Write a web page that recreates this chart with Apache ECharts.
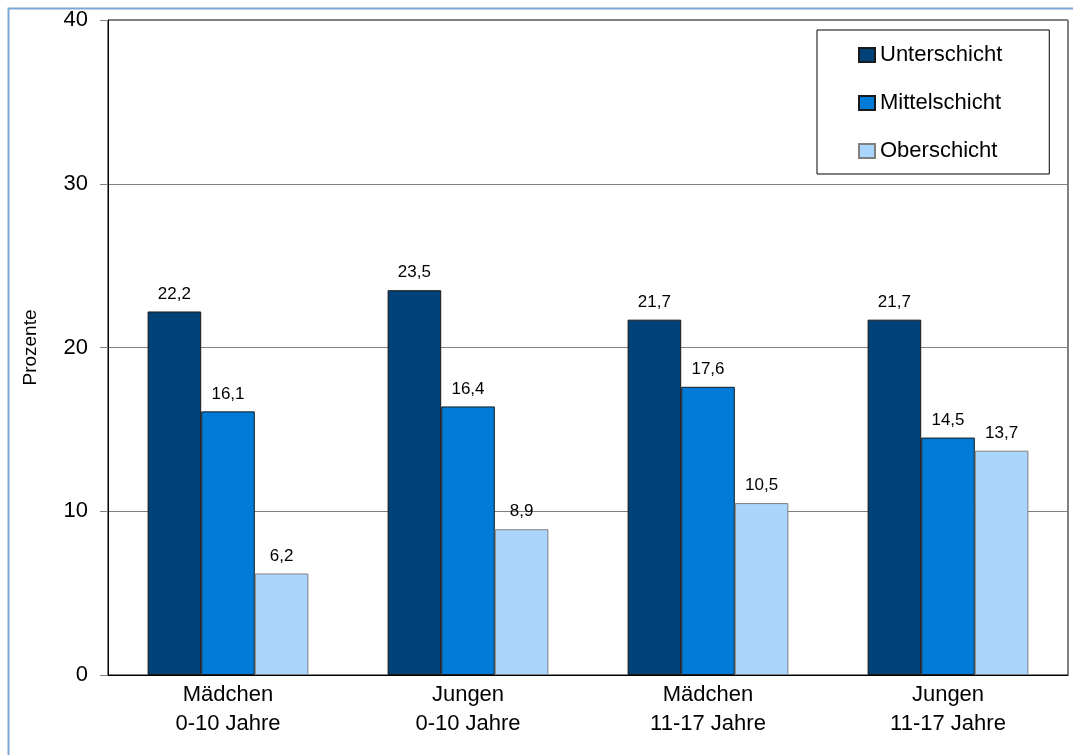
<!DOCTYPE html>
<html><head><meta charset="utf-8">
<script src="https://cdn.jsdelivr.net/npm/echarts@6/dist/echarts.min.js"></script>
<style>html,body{margin:0;padding:0;background:#fff;}#c{width:1073px;height:755px;}</style>
</head><body><div id="c"></div>
<script>
const categories = ['Mädchen\n0-10 Jahre', 'Jungen\n0-10 Jahre', 'Mädchen\n11-17 Jahre', 'Jungen\n11-17 Jahre'];
const unterschicht = [22.2, 23.5, 21.7, 21.7];
const mittelschicht = [16.1, 16.4, 17.6, 14.5];
const oberschicht = [6.2, 8.9, 10.5, 13.7];
const seriesNames = ['Unterschicht', 'Mittelschicht', 'Oberschicht'];
const yTicks = [0, 10, 20, 30, 40];

const colors = ['#004277', '#007BD7', '#AAD5FD'];
const borders = ['#1a1a1a', '#1a1a1a', '#808080'];
const font = 'Liberation Sans, Arial, sans-serif';

const chart = echarts.init(document.getElementById('c'), null, {renderer: 'canvas'});
const dataSets = [unterschicht, mittelschicht, oberschicht];
chart.setOption({
  animation: false,
  textStyle: {fontFamily: font},
  graphic: [{
    type: 'rect', shape: {x: 8.5, y: 8.5, width: 1100, height: 800},
    style: {fill: 'none', stroke: '#7FA6D8', lineWidth: 2}, z: 100
  }],
  grid: {left: 108, right: 5, top: 20, bottom: 80, show: true, borderColor: '#000', borderWidth: 1},
  legend: {
    orient: 'vertical', left: 817, top: 30,
    itemWidth: 16, itemHeight: 14, itemGap: 26,
    padding: [14, 47, 12, 41],
    borderColor: '#000', borderWidth: 1, backgroundColor: '#fff',
    textStyle: {fontSize: 22, color: '#000', fontFamily: font},
    data: seriesNames.map((n) => ({name: n, icon: 'rect'}))
  },
  xAxis: {
    type: 'category', data: categories,
    axisLine: {lineStyle: {color: '#000', width: 1}},
    axisTick: {show: false},
    axisLabel: {fontSize: 22, color: '#000', lineHeight: 29, margin: 5, fontFamily: font}
  },
  yAxis: {
    type: 'value', min: yTicks[0], max: yTicks[yTicks.length - 1], interval: 10,
    name: 'Prozente', nameLocation: 'middle', nameGap: 68,
    nameTextStyle: {fontSize: 19, color: '#000', fontFamily: font},
    axisLine: {show: true, lineStyle: {color: '#000'}},
    axisTick: {show: true, length: 8, lineStyle: {color: '#808080'}},
    axisLabel: {fontSize: 22, color: '#000', margin: 20, fontFamily: font},
    splitLine: {lineStyle: {color: '#808080', width: 1}}
  },
  series: dataSets.map((d, i) => ({
    name: seriesNames[i], type: 'bar', data: d,
    barGap: '0%', barCategoryGap: '33%',
    itemStyle: {color: colors[i], borderColor: borders[i], borderWidth: 1},
    label: {
      show: true, position: 'top', distance: 9, fontSize: 17, color: '#000', fontFamily: font,
      formatter: (p) => p.value.toFixed(1).replace('.', ',')
    }
  }))
});
</script></body></html>
